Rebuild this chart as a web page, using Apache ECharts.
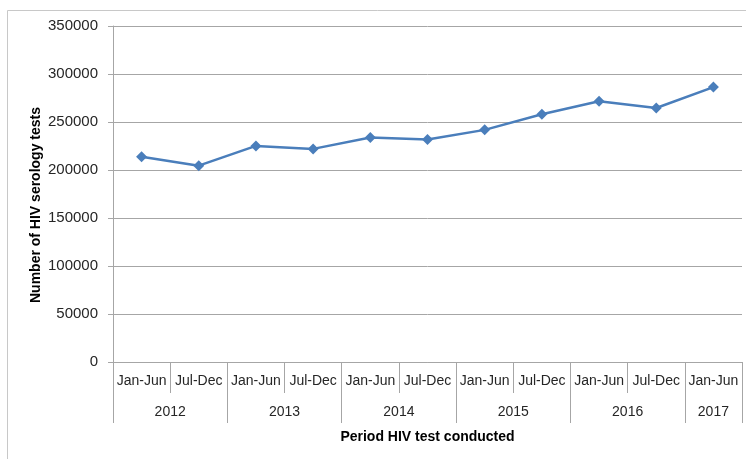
<!DOCTYPE html>
<html>
<head>
<meta charset="utf-8">
<script src="https://cdn.jsdelivr.net/npm/echarts@6/dist/echarts.min.js"></script>
<style>html,body{margin:0;padding:0;background:#fff;}#c{width:746px;height:459px;}</style>
</head>
<body>
<div id="c"></div>
<script>
const periods = ['Jan-Jun','Jul-Dec','Jan-Jun','Jul-Dec','Jan-Jun','Jul-Dec','Jan-Jun','Jul-Dec','Jan-Jun','Jul-Dec','Jan-Jun'];
const periodYears = ['2012','2012','2013','2013','2014','2014','2015','2015','2016','2016','2017'];
const tests = [213900, 204500, 225100, 222000, 233800, 231700, 241800, 258100, 271600, 264600, 286400];
const yTicks = [0, 50000, 100000, 150000, 200000, 250000, 300000, 350000];

// group categories by year
const groups = [];
periodYears.forEach((y, i) => {
  const last = groups[groups.length - 1];
  if (last && last.year === y) last.end = i + 1;
  else groups.push({ year: y, start: i, end: i + 1 });
});
const yearBounds = [0].concat(groups.map(g => g.end));
const yearCenters = groups.map(g => (g.start + g.end) / 2);

const gray = '#A6A6A6';
const font = 'Liberation Sans, Arial, sans-serif';
const chart = echarts.init(document.getElementById('c'));
chart.setOption({
  animation: false,
  backgroundColor: '#fff',
  graphic: [{
    type: 'rect', shape: { x: 7.5, y: 10.5, width: 800, height: 500 },
    style: { fill: 'none', stroke: '#C8C8C8', lineWidth: 1 }, silent: true, z: -1
  }],
  grid: { left: 113, right: 4, top: 26, bottom: 97 },
  xAxis: [{
    type: 'category', data: periods, boundaryGap: true, position: 'bottom',
    axisLine: { show: true, lineStyle: { color: gray, width: 1 } },
    axisTick: { show: true, interval: 0, length: 31, lineStyle: { color: gray } },
    axisLabel: { interval: 0, margin: 12, fontSize: 14, color: '#262626', fontFamily: font },
    splitLine: { show: false }
  }, {
    type: 'value', min: 0, max: periods.length, position: 'bottom',
    axisLine: { show: false },
    axisTick: { show: true, customValues: yearBounds, length: 61, lineStyle: { color: gray } },
    axisLabel: {
      customValues: yearCenters, margin: 43, fontSize: 14, color: '#262626', fontFamily: font,
      formatter: v => { const i = yearCenters.indexOf(v); return i >= 0 ? groups[i].year : ''; }
    },
    splitLine: { show: false },
    name: 'Period HIV test conducted', nameLocation: 'middle', nameGap: 68, nameMoveOverlap: false,
    nameTextStyle: { fontSize: 14, fontWeight: 'bold', color: '#000', fontFamily: font }
  }],
  yAxis: {
    type: 'value', min: yTicks[0], max: yTicks[yTicks.length - 1], interval: 50000,
    axisLine: { show: true, lineStyle: { color: gray } },
    axisTick: { show: true, length: 5, lineStyle: { color: gray } },
    axisLabel: { margin: 15, fontSize: 15, color: '#262626', fontFamily: font, formatter: v => String(v) },
    splitLine: { show: true, lineStyle: { color: gray, width: 1 } },
    name: 'Number of HIV serology tests', nameLocation: 'middle', nameGap: 70, nameMoveOverlap: false,
    nameTextStyle: { fontSize: 14, fontWeight: 'bold', color: '#000', fontFamily: font, padding: [0, 22, 0, 0] }
  },
  series: [{
    type: 'line', xAxisIndex: 0, data: tests,
    symbol: 'diamond', symbolSize: 11,
    lineStyle: { color: '#4A7EBB', width: 2.5 },
    itemStyle: { color: '#4A7EBB' }
  }]
});
</script>
</body>
</html>
